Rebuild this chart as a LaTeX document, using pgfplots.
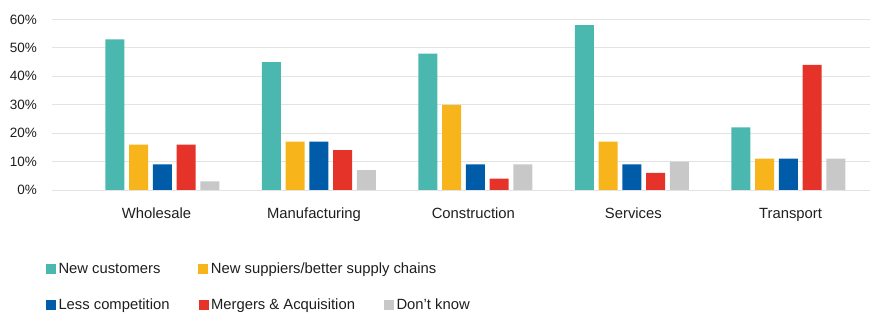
\documentclass[border=0pt]{standalone}
\usepackage{fontspec}
\setmainfont{Liberation Sans}
\usepackage{pgfplots}
\pgfplotsset{compat=1.18}
\definecolor{cteal}{HTML}{4AB8AE}
\definecolor{cyel}{HTML}{F8B51B}
\definecolor{cblue}{HTML}{005CA9}
\definecolor{cred}{HTML}{E6332A}
\definecolor{cgrey}{HTML}{C8C8C8}
\definecolor{cgrid}{HTML}{E3E3E3}
\definecolor{ctext}{HTML}{1E1E1E}
\pgfplotsset{
  sqlegend/.style={legend image code/.code={\fill[##1] (0bp,-5bp) rectangle (10bp,5bp);}},
}
\begin{document}
\begin{tikzpicture}
\useasboundingbox (0,0) rectangle (879bp,314bp);
\begin{axis}[
  at={(52bp,124bp)}, anchor=south west,
  scale only axis, width=818bp, height=170.5bp,
  xmin=-0.7054, xmax=4.521, ymin=0, ymax=60,
  axis line style={draw=none},
  ymajorgrids, grid style={color=cgrid, line width=1bp},
  major tick length=0pt,
  ytick={0,10,...,60},
  yticklabel={\pgfmathprintnumber{\tick}\%},
  /pgf/number format/assume math mode=true,
  yticklabel style={anchor=east, inner sep=0pt, xshift=-15bp, font=\fontsize{13.5bp}{16bp}\selectfont, text=ctext},
  xtick={-0.0377,0.9687,1.9866,3.009,4.0134},
  xticklabels={Wholesale,Manufacturing,Construction,Services,Transport},
  xticklabel style={anchor=north, inner sep=0pt, yshift=-18bp, font=\fontsize{14.8bp}{17bp}\selectfont, text=ctext},
  ybar, bar width=0.1214,
  sqlegend,
  legend columns=2,
  legend style={draw=none, fill=none, inner sep=0pt, outer sep=0pt,
    at={(-0.00733,-0.462)}, anchor=west,
    font=\fontsize{14.8bp}{17bp}\selectfont, text=ctext,
    nodes={inner sep=0pt, anchor=west},
    /tikz/every odd column/.style={column sep=2.5bp},
    /tikz/every even column/.style={column sep=38bp}},
]
\addplot[fill=cteal, draw=none, bar shift=-0.3036] coordinates {(0,53) (1,45) (2,48) (3,58) (4,22)};
\addplot[fill=cyel, draw=none, bar shift=-0.1518] coordinates {(0,16) (1,17) (2,30) (3,17) (4,11)};
\addplot[fill=cblue, draw=none, bar shift=0] coordinates {(0,9) (1,17) (2,9) (3,9) (4,11)};
\addplot[fill=cred, draw=none, bar shift=0.1518] coordinates {(0,16) (1,14) (2,4) (3,6) (4,44)};
\addplot[fill=cgrey, draw=none, bar shift=0.3036] coordinates {(0,3) (1,7) (2,9) (3,10) (4,11)};
\legend{New customers, New suppiers/better supply chains}
\end{axis}
\begin{axis}[
  at={(52bp,124bp)}, anchor=south west,
  scale only axis, width=818bp, height=170.5bp,
  xmin=0, xmax=1, ymin=0, ymax=1,
  hide axis,
  sqlegend,
  legend columns=3,
  legend style={draw=none, fill=none, inner sep=0pt, outer sep=0pt,
    at={(-0.00733,-0.676)}, anchor=west,
    font=\fontsize{14.8bp}{17bp}\selectfont, text=ctext,
    nodes={inner sep=0pt, anchor=west},
    /tikz/every odd column/.style={column sep=2.5bp},
    /tikz/every even column/.style={column sep=29bp}},
]
\addlegendimage{fill=cblue, draw=none}
\addlegendimage{fill=cred, draw=none}
\addlegendimage{fill=cgrey, draw=none}
\legend{Less competition, Mergers \& Acquisition, Don't know}
\end{axis}
\end{tikzpicture}
\end{document}
